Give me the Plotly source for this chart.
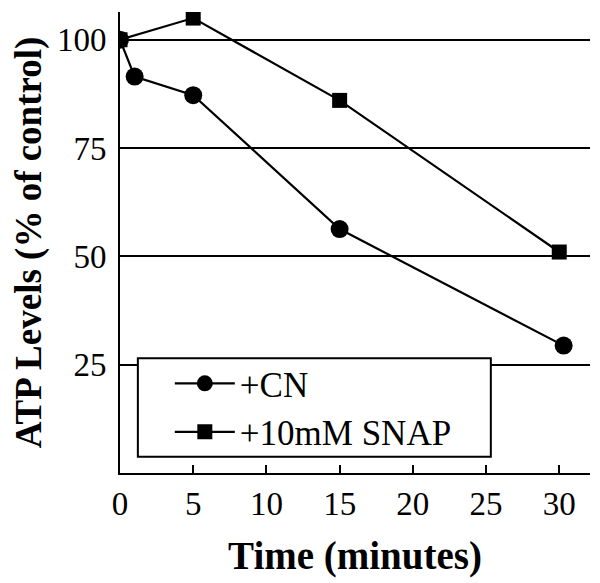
import plotly.graph_objects as go

# Data
cn_time = [0, 1, 5, 15, 30.3]
cn_atp = [100, 91.5, 87.2, 56.3, 29.4]
snap_time = [0, 5, 15, 30]
snap_atp = [100, 105, 86, 51]
x_ticks = [0, 5, 10, 15, 20, 25, 30]
y_ticks = [25, 50, 75, 100]

FONT = "Liberation Serif"

fig = go.Figure()
fig.add_trace(go.Scatter(
    x=cn_time, y=cn_atp, mode="lines+markers", name="+CN",
    line=dict(color="black", width=2.2),
    marker=dict(symbol="circle", size=18, color="black"),
))
fig.add_trace(go.Scatter(
    x=snap_time, y=snap_atp, mode="lines+markers", name="+10mM SNAP",
    line=dict(color="black", width=2.2),
    marker=dict(symbol="square", size=15, color="black"),
))

# legend frame
fig.add_shape(type="rect", xref="paper", yref="paper",
              x0=0.038, x1=0.789, y0=0.035, y1=0.249,
              line=dict(color="black", width=2), fillcolor="white", layer="above")

fig.update_layout(
    width=592, height=575,
    margin=dict(l=112, r=10, t=4, b=110),
    paper_bgcolor="white", plot_bgcolor="white",
    font=dict(family=FONT, color="black", size=33),
    showlegend=True,
    legend=dict(x=0.106, y=0.258, xanchor="left", yanchor="top",
                bgcolor="rgba(0,0,0,0)", borderwidth=0,
                font=dict(family=FONT, size=35), tracegroupgap=0,
                itemwidth=60),
    xaxis=dict(
        range=[0, 32.1], tickvals=x_ticks, ticktext=[str(v) for v in x_ticks],
        showgrid=False, zeroline=False,
        showline=True, linecolor="black", linewidth=2,
        ticks="inside", ticklen=8, tickwidth=2, tickcolor="black",
        tickfont=dict(family=FONT, size=33),
        title=dict(text="<b>Time (minutes)</b>", font=dict(family=FONT, size=39), standoff=21),
    ),
    yaxis=dict(
        range=[0, 106.4], tickvals=y_ticks, ticktext=[str(v) for v in y_ticks],
        showgrid=True, gridcolor="black", gridwidth=1.5, zeroline=False,
        showline=True, linecolor="black", linewidth=2,
        ticks="", ticklabelstandoff=5,
        tickfont=dict(family=FONT, size=33),
        title=dict(text="<b>ATP Levels (% of control)</b>", font=dict(family=FONT, size=37), standoff=20),
    ),
)

fig.write_html("out.html")
